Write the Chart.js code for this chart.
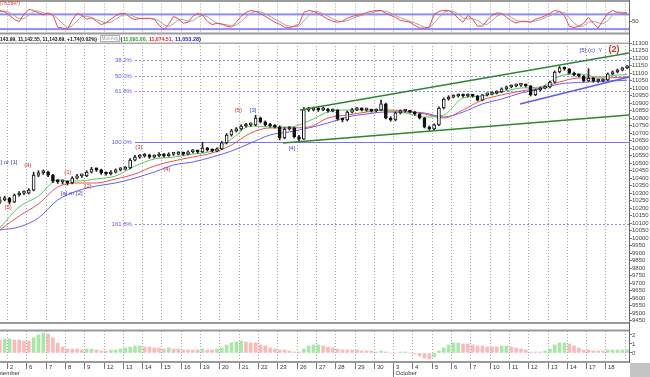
<!DOCTYPE html>
<html>
<head>
<meta charset="utf-8">
<title>Chart</title>
<script src="https://cdn.jsdelivr.net/npm/chart.js@4.4.1/dist/chart.umd.min.js"></script>
<style>
  html, body { margin:0; padding:0; background:#fff; }
  #wrap { position:relative; width:650px; height:377px; overflow:hidden; background:#fff; }
  #wrap canvas { position:absolute; left:0; top:0; }
</style>
</head>
<body>
<div id="wrap">
  <canvas id="osc" width="650" height="377"></canvas>
  <canvas id="main" width="650" height="377"></canvas>
  <canvas id="hist" width="650" height="377"></canvas>
</div>
<script>
// ---------------- DATA ----------------
const FIRST_BAR = 2;            // session index of the first visible bar
const SESSIONS_PER_DAY = 4;
const dayLabels = ['2','6','7','8','9','12','13','14','15','16','19','20','21','22','23','26','27','28','29','30',
                   '3','4','5','6','7','10','11','12','13','14','17','18'];
const monthLabels = ['September', 'October'];
const monthStartDay = [-1, 20];

const opens = [
 10241,10255,10268,10241,10288,10301,10301,10321,10421,10435,
 10441,10421,10381,10375,10375,10368,10401,10415,10415,10441,
 10461,10455,10435,10428,10441,10455,10461,10468,10521,10541,
 10548,10555,10541,10548,10561,10548,10561,10561,10568,10561,
 10575,10581,10575,10601,10588,10581,10595,10635,10688,10715,
 10728,10748,10755,10755,10801,10775,10755,10748,10741,10668,
 10728,10735,10675,10661,10855,10855,10861,10855,10861,10848,
 10855,10795,10788,10841,10855,10861,10855,10855,10848,10855,
 10895,10801,10788,10835,10848,10848,10841,10828,10801,10741,
 10728,10755,10868,10928,10941,10948,10955,10948,10955,10948,
 10921,10955,10961,10968,10975,10995,11008,11015,11021,11021,
 11015,10955,10988,11001,11008,11041,11108,11135,11128,11101,
 11088,11081,11048,11068,11048,11048,11055,11095,11108,11121,
 11135];
const highs = [
 10275,10280,10272,10295,10310,10315,10330,10440,10450,10455,
 10448,10425,10390,10388,10380,10410,10425,10428,10450,10472,
 10468,10460,10442,10450,10462,10470,10478,10530,10552,10558,
 10565,10560,10556,10570,10566,10570,10572,10578,10574,10582,
 10590,10586,10640,10606,10595,10602,10645,10698,10725,10738,
 10755,10765,10768,10820,10808,10782,10765,10758,10750,10738,
 10745,10740,10685,10870,10872,10875,10868,10872,10866,10862,
 10858,10802,10848,10865,10872,10868,10865,10860,10862,10920,
 10900,10810,10842,10856,10858,10852,10846,10832,10806,10748,
 10762,10875,10935,10950,10956,10962,10960,10962,10960,10952,
 10960,10968,10975,10982,11002,11015,11022,11028,11030,11026,
 11018,10995,11008,11015,11048,11115,11145,11142,11132,11108,
 11095,11085,11130,11072,11060,11062,11102,11115,11128,11140,
 11150];
const lows = [
 10230,10248,10228,10238,10280,10290,10295,10315,10410,10425,
 10410,10370,10365,10362,10355,10362,10395,10405,10410,10435,
 10445,10425,10420,10422,10435,10448,10455,10462,10515,10532,
 10540,10532,10535,10542,10540,10545,10552,10555,10552,10556,
 10568,10566,10570,10580,10575,10576,10590,10628,10680,10708,
 10720,10740,10745,10750,10768,10748,10740,10735,10655,10662,
 10720,10668,10650,10658,10845,10848,10845,10850,10840,10842,
 10785,10775,10782,10835,10850,10848,10846,10840,10842,10850,
 10795,10780,10782,10828,10840,10835,10820,10795,10735,10720,
 10722,10750,10862,10920,10935,10940,10940,10942,10940,10915,
 10916,10948,10955,10962,10970,10988,11002,11008,11012,11008,
 10948,10950,10982,10995,11002,11035,11102,11120,11095,11082,
 11075,11042,11045,11040,11038,11042,11050,11090,11102,11115,
 11130];
const closes = [
 10255,10268,10241,10288,10301,10301,10321,10421,10435,10441,
 10421,10381,10375,10375,10368,10401,10415,10415,10441,10461,
 10455,10435,10428,10441,10455,10461,10468,10521,10541,10548,
 10555,10541,10548,10561,10548,10561,10561,10568,10561,10575,
 10581,10575,10601,10588,10581,10595,10635,10688,10715,10728,
 10748,10755,10755,10801,10775,10755,10748,10741,10668,10728,
 10735,10675,10661,10855,10855,10861,10855,10861,10848,10855,
 10795,10788,10841,10855,10861,10855,10855,10848,10855,10895,
 10801,10788,10835,10848,10848,10841,10828,10801,10741,10728,
 10755,10868,10928,10941,10948,10955,10948,10955,10948,10921,
 10955,10961,10968,10975,10995,11008,11015,11021,11021,11015,
 10955,10988,11001,11008,11041,11108,11135,11128,11101,11088,
 11081,11048,11068,11048,11048,11055,11095,11108,11121,11135,
 11143];

// moving averages, read once per trading day
const maBars = [2,6,10,14,18,22,26,30,34,38,42,46,50,54,58,62,66,70,74,78,82,86,90,94,98,102,106,110,114,118,122,126,130,132];
const maFast = [10068,10208,10281,10388,10381,10395,10415,10481,10528,10541,10561,10581,10661,10748,10741,10741,10781,
                10841,10855,10855,10848,10835,10808,10821,10935,10948,10975,11001,11008,11081,11095,11075,11088,11091];
const maMid  = [10055,10148,10228,10341,10368,10368,10395,10428,10481,10515,10541,10568,10621,10701,10735,10735,10741,
                10801,10821,10841,10855,10848,10828,10801,10855,10921,10955,10981,11001,11041,11068,11068,11071,11074];
const maSlow = [10055,10075,10135,10255,10315,10348,10368,10401,10441,10488,10508,10541,10581,10635,10688,10708,10735,
                10768,10808,10828,10841,10841,10835,10808,10841,10895,10928,10968,10995,11028,11038,11045,11050,11053];

// oscillator (top panel)
const oscMain = [
 80.7,76.7,67.3,56.7,50,70,83.3,80.7,74,68.7,
 74,67.3,35.3,32.7,30,54,72.7,67.3,56.7,60.7,
 51.3,42,47.3,56.7,66,72.7,72.7,62,55.3,59.3,
 59.3,59.3,56.7,40.7,27.3,43.3,64.7,58,46,48.7,
 64.7,72.7,67.3,51.3,42,46,43.3,38,35.3,48.7,
 64.7,75.3,80.7,78,72.7,64.7,56.7,48.7,43.3,35.3,
 34,38,43.3,75.3,80.7,78,72.7,64.7,56.7,51.3,
 48.7,51.3,59.3,64.7,67.3,70,75.3,78,80.7,80.7,
 72.7,67.3,62,54,51.3,48.7,40.7,32.7,32.7,35.3,
 70,78,80.7,80.7,72.7,59.3,48.7,67.3,56.7,38,
 38,54,67.3,74,72.7,62,52.7,46,51.3,51.3,
 48.7,56.7,60.7,66,72.7,80.7,78,67.3,38,34,
 38,46,62,46,32.7,54,72.7,80.7,75.3,72.7,
 74];
const oscSignal = [
 78,79,75,67,58,58,68,78,79,74,
 72,70,58,45,33,39,52,65,65,62,
 56,51,47,49,57,65,70,69,63,59,
 58,59,58,52,42,37,45,55,56,51,
 53,62,68,64,54,46,44,42,39,41,
 50,63,74,78,77,72,65,57,50,42,
 38,36,38,52,67,78,77,72,65,58,
 52,50,53,58,64,67,71,74,78,80,
 78,74,67,61,56,51,47,41,35,34,
 46,61,76,80,78,71,60,58,58,54,
 44,43,53,65,71,70,62,54,50,50,
 50,52,55,61,66,73,77,75,61,46,
 37,39,49,51,47,44,53,69,76,76,
 74];
const oscBands = [70, 30];
const oscMid = 50;

// histogram (bottom panel)
const histVals = [
 1.44,1.56,1.56,1.44,1.44,1.33,1.33,1.67,2.0,2.22,
 2.11,1.67,1.11,0.67,0.44,0.44,0.44,0.33,0.44,0.44,
 0.33,0.22,0.22,0.33,0.33,0.44,0.56,0.67,0.78,0.78,
 0.67,0.67,0.56,0.56,0.44,0.56,0.44,0.44,0.33,0.33,
 0.33,0.33,0.44,0.33,0.33,0.44,0.56,0.89,1.11,1.22,
 1.33,1.22,1.11,1.11,0.89,0.78,0.56,0.44,0.33,0.33,
 0.22,0.11,0.11,0.44,0.78,0.89,0.89,0.78,0.67,0.56,
 0.44,0.33,0.33,0.33,0.33,0.22,0.22,0.22,0.11,0.22,
 0.11,0,0,0.11,0.11,0,-0.11,-0.33,-0.56,-0.67,
 -0.44,0.22,0.56,0.89,1.11,1.11,1.0,1.0,0.89,0.78,
 0.78,0.67,0.67,0.67,0.78,0.78,0.67,0.56,0.44,0.33,
 0.11,0.11,0.11,0.22,0.44,0.89,1.11,1.11,1.0,0.78,
 0.56,0.33,0.33,0.22,0.22,0.22,0.33,0.33,0.33,0.33,
 0.33];
const histTicks = [0, 1, 2];

// fibonacci levels and trend lines
const fibNames  = ['38.2%', '50.0%', '61.8%', '100.0%', '161.8%'];
const fibLevels = [11187, 11082, 10978, 10641, 10095];
const fibStartBar = 30;
const trendUpper   = [[64.2, 10855], [132.4, 11235]];
const trendLower   = [[60.7, 10635], [132.4, 10821]];
const trendSupport = [[109.8, 10895], [132.4, 11075]];

// wave count labels
const waveLabels = [
  {text:'[c] or [1]', bar:3.4,   price:10505, color:'blue'},
  {text:'(4)',        bar:7.8,   price:10488, color:'red'},
  {text:'(5)',        bar:3.7,   price:10208, color:'red'},
  {text:'(1)',        bar:16.1,  price:10441, color:'red'},
  {text:'(2)',        bar:20.3,  price:10348, color:'red'},
  {text:'[a] or [2]', bar:16.9,  price:10301, color:'blue'},
  {text:'(3)',        bar:30.8,  price:10608, color:'red'},
  {text:'(4)',        bar:36.6,  price:10461, color:'red'},
  {text:'(5)',        bar:51.4,  price:10855, color:'red'},
  {text:'[3]',        bar:54.5,  price:10855, color:'blue'},
  {text:'[4]',        bar:62.5,  price:10601, color:'blue'},
  {text:'[5] (c)  Y', bar:124.5, price:11255, color:'blue'},
  {text:'(2)',        bar:129.3, price:11255, color:'red', big:true}
];

const headerQuote = '143.99, 11,142.55, 11,143.69, +1.74(0.02%)';
const headerStudy = 'Mov.Avg';
const headerMa = ['11,091.00', '11,074.51', '11,053.28'];
const oscValueText = '(78.5647)';

const priceMin = 9428, priceMax = 11301.3, priceStep = 50;
const X_MIN = 2.03, X_MAX = 132.39;

// ---------------- DRAWING ----------------
Chart.defaults.font.family = '"Liberation Sans", Arial, sans-serif';
const FONT = '"Liberation Sans", Arial, sans-serif';
const COL = {green:'#2aa02a', red:'#f05050', blue:'#6262f2', lblBlue:'#3c3cdc', lblRed:'#e02828'};
const AXIS_W = 21;
const fixW = s => { s.width = AXIS_W; };
const barIdx = opens.map((_, k) => FIRST_BAR + k);
const dayBoundary = k => 3.5 + SESSIONS_PER_DAY * k;

function drawDayGrid(chart, top, bottom) {
  const ctx = chart.ctx, xs = chart.scales.x;
  ctx.save();
  ctx.strokeStyle = '#a8a8a8'; ctx.lineWidth = 1; ctx.setLineDash([1, 2]);
  for (let k = 0; k <= dayLabels.length; k++) {
    const x = Math.round(xs.getPixelForValue(dayBoundary(k))) + 0.5;
    if (x < 0 || x > chart.chartArea.right) continue;
    ctx.beginPath(); ctx.moveTo(x, top); ctx.lineTo(x, bottom); ctx.stroke();
  }
  ctx.restore();
}

const baseOpts = (padTop, padBottom) => ({
  responsive: false, animation: false, devicePixelRatio: 1,
  layout: {padding: {top: padTop, bottom: padBottom, left: 0, right: 0}},
  plugins: {legend: {display: false}, tooltip: {enabled: false}},
});
const xScale = () => ({type: 'linear', min: X_MIN, max: X_MAX, display: false, offset: false, grid: {offset: false}});
const yAxisStyle = {
  position: 'right', afterFit: fixW,
  grid: {display: true, drawOnChartArea: false, tickLength: 3, color: '#777'},
  border: {display: true, color: '#555'},
};

// ---- oscillator panel ----
new Chart(document.getElementById('osc'), {
  type: 'line',
  data: {datasets: [
    {data: barIdx.map((x, k) => ({x, y: oscSignal[k]})), borderColor: '#a6a6a6', borderWidth: 1, pointRadius: 0, order: 2},
    {data: barIdx.map((x, k) => ({x, y: oscMain[k]})), borderColor: '#f04848', borderWidth: 1, pointRadius: 0, order: 1}
  ]},
  options: Object.assign(baseOpts(3, 343), {
    scales: {
      x: xScale(),
      y: Object.assign({}, yAxisStyle, {
        min: 16.67, max: 99.33,
        afterBuildTicks: s => { s.ticks = [{value: oscMid}]; },
        ticks: {font: {size: 6}, color: '#444', padding: 0}
      })
    }
  }),
  plugins: [{
    id: 'oscDeco',
    beforeDatasetsDraw(chart) {
      const ctx = chart.ctx, ys = chart.scales.y, a = chart.chartArea;
      drawDayGrid(chart, a.top, a.bottom);
      ctx.save();
      ctx.fillStyle = '#8c8cff';
      oscBands.forEach(v => { const y = ys.getPixelForValue(v); ctx.fillRect(0, y - 1, a.right, 2); });
      ctx.restore();
    },
    afterDraw(chart) {
      const ctx = chart.ctx;
      ctx.save();
      ctx.fillStyle = '#9a9a9a';
      ctx.fillRect(0, 0, 629, 2);
      ctx.fillRect(0, 32.5, 629, 2);
      ctx.font = '6px ' + FONT; ctx.fillStyle = COL.lblRed; ctx.textBaseline = 'top';
      ctx.fillText(oscValueText, 0, 0, 20);
      ctx.restore();
    }
  }]
});

// ---- main price panel ----
const pts = arr => arr.map(p => ({x: p[0], y: p[1]}));
new Chart(document.getElementById('main'), {
  type: 'bar',
  data: {datasets: [
    {type: 'line', data: pts(trendUpper), borderColor: '#2e862e', borderWidth: 1.6, pointRadius: 0, order: 0},
    {type: 'line', data: pts(trendLower), borderColor: '#2e862e', borderWidth: 1.6, pointRadius: 0, order: 0},
    {type: 'line', data: pts(trendSupport), borderColor: '#5a5af0', borderWidth: 1.4, pointRadius: 0, order: 0},
    {type: 'bar', data: barIdx.map((x, k) => ({x, y: [opens[k], closes[k]]})),
     backgroundColor: barIdx.map((_, k) => closes[k] >= opens[k] ? '#ffffff' : '#111111'),
     borderColor: '#111', borderWidth: 1, borderSkipped: false, barThickness: 3, minBarLength: 2, grouped: false, order: 1},
    {type: 'bar', data: barIdx.map((x, k) => ({x, y: [lows[k], highs[k]]})),
     backgroundColor: '#222', barThickness: 1, grouped: false, order: 2},
    {type: 'line', data: maBars.map((x, k) => ({x, y: maSlow[k]})), borderColor: COL.blue, borderWidth: 1, pointRadius: 0, cubicInterpolationMode: 'monotone', order: 5},
    {type: 'line', data: maBars.map((x, k) => ({x, y: maMid[k]})), borderColor: COL.red, borderWidth: 1, pointRadius: 0, cubicInterpolationMode: 'monotone', order: 4},
    {type: 'line', data: maBars.map((x, k) => ({x, y: maFast[k]})), borderColor: '#5cc85c', borderWidth: 1, pointRadius: 0, cubicInterpolationMode: 'monotone', order: 3}
  ]},
  options: Object.assign(baseOpts(43, 53), {
    scales: {
      x: xScale(),
      y: Object.assign({}, yAxisStyle, {
        type: 'linear', min: priceMin, max: priceMax, beginAtZero: false,
        ticks: {stepSize: priceStep, autoSkip: false, includeBounds: false, font: {size: 6}, color: '#444', padding: 0,
                callback: v => String(v)}
      })
    }
  }),
  plugins: [{
    id: 'mainDeco',
    beforeDatasetsDraw(chart) {
      const ctx = chart.ctx, xs = chart.scales.x, ys = chart.scales.y, a = chart.chartArea;
      drawDayGrid(chart, a.top, a.bottom);
      const x0 = xs.getPixelForValue(fibStartBar);
      ctx.save();
      fibLevels.forEach((lv, n) => {
        const y = Math.round(ys.getPixelForValue(lv)) + 0.5;
        ctx.strokeStyle = n === 3 ? '#7474ff' : '#8c8cee';
        ctx.lineWidth = 1;
        ctx.setLineDash(n === 3 ? [] : [2, 2]);
        ctx.beginPath(); ctx.moveTo(x0, y); ctx.lineTo(a.right, y); ctx.stroke();
      });
      ctx.restore();
    },
    afterDatasetsDraw(chart) {
      const ctx = chart.ctx, xs = chart.scales.x, ys = chart.scales.y;
      const x0 = xs.getPixelForValue(fibStartBar);
      ctx.save();
      ctx.textBaseline = 'middle';
      ctx.font = '6px ' + FONT;
      ctx.fillStyle = '#5a5af5'; ctx.textAlign = 'right';
      fibLevels.forEach((lv, n) => ctx.fillText(fibNames[n], x0 - 3, ys.getPixelForValue(lv)));
      ctx.textAlign = 'center';
      waveLabels.forEach(w => {
        ctx.font = (w.big ? 'bold 9px ' : '6px ') + FONT;
        ctx.fillStyle = w.color === 'red' ? COL.lblRed : COL.lblBlue;
        ctx.fillText(w.text, xs.getPixelForValue(w.bar), ys.getPixelForValue(w.price));
      });
      ctx.restore();
    },
    afterDraw(chart) {
      const ctx = chart.ctx;
      ctx.save();
      ctx.fillStyle = '#a8a8a8';
      ctx.fillRect(0, 42.5, 629, 1.5);
      // header line
      const y = 39;
      ctx.textBaseline = 'middle'; ctx.textAlign = 'left';
      ctx.font = 'bold 6px ' + FONT; ctx.fillStyle = '#111';
      ctx.fillText(headerQuote, 0, y, 97);
      ctx.strokeStyle = '#b0b0b0'; ctx.lineWidth = 1; ctx.strokeRect(100.5, 35.5, 19, 6);
      ctx.font = '5px ' + FONT; ctx.fillStyle = '#9a9a9a';
      ctx.fillText(headerStudy, 101.5, y, 17);
      ctx.font = 'bold 6px ' + FONT; ctx.fillStyle = '#111';
      ctx.fillText('(', 120.5, y);
      const cols = ['#1e961e', '#e02020', '#2424e0'];
      const xs0 = [123, 149, 175];
      headerMa.forEach((t, n) => { ctx.fillStyle = cols[n]; ctx.fillText(t + (n < 2 ? ',' : ''), xs0[n], y, 24); });
      ctx.fillStyle = '#111'; ctx.fillText(')', 199, y);
      ctx.restore();
    }
  }]
});

// ---- histogram panel + date axis ----
const histColors = [];
{ let up = false;
  histVals.forEach((v, k) => {
    if (k > 0) { if (v > histVals[k - 1]) up = true; else if (v < histVals[k - 1]) up = false; }
    histColors.push(up ? 'rgba(110,215,110,0.6)' : 'rgba(248,140,140,0.6)');
  });
}
new Chart(document.getElementById('hist'), {
  type: 'bar',
  data: {datasets: [
    {data: barIdx.map((x, k) => ({x, y: histVals[k]})), backgroundColor: histColors, barThickness: 3, grouped: false}
  ]},
  options: Object.assign(baseOpts(331, 16), {
    scales: {
      x: xScale(),
      y: Object.assign({}, yAxisStyle, {
        min: -0.89, max: 2.44,
        afterBuildTicks: s => { s.ticks = histTicks.map(v => ({value: v})); },
        ticks: {font: {size: 6}, color: '#444', padding: 0}
      })
    }
  }),
  plugins: [{
    id: 'histDeco',
    beforeDatasetsDraw(chart) {
      const a = chart.chartArea;
      drawDayGrid(chart, a.top, a.bottom);
    },
    afterDraw(chart) {
      const ctx = chart.ctx, xs = chart.scales.x;
      ctx.save();
      ctx.fillStyle = '#9a9a9a';
      ctx.fillRect(0, 322, 629, 2);
      ctx.fillRect(0, 329.5, 629, 2);
      ctx.fillRect(0, 361, 629, 2);
      ctx.fillStyle = '#666';
      ctx.fillRect(629, 0, 1, 363);
      ctx.fillStyle = '#c4c4c4';
      ctx.fillRect(630, 363, 20, 14);
      // day labels
      ctx.font = '6px ' + FONT; ctx.fillStyle = '#333'; ctx.textBaseline = 'middle'; ctx.textAlign = 'left';
      ctx.strokeStyle = '#777'; ctx.lineWidth = 1;
      dayLabels.forEach((t, k) => {
        const x = Math.round(xs.getPixelForValue(dayBoundary(k))) + 0.5;
        ctx.beginPath(); ctx.moveTo(x, 363); ctx.lineTo(x, 369); ctx.stroke();
        ctx.fillText(t, x + 2.5, 367);
      });
      monthLabels.forEach((m, n) => {
        const x = Math.round(xs.getPixelForValue(dayBoundary(monthStartDay[n]))) + 0.5;
        ctx.beginPath(); ctx.moveTo(x, 363); ctx.lineTo(x, 377); ctx.stroke();
        ctx.fillText(m, x + 2, 373);
      });
      ctx.restore();
    }
  }]
});
</script>
</body>
</html>
